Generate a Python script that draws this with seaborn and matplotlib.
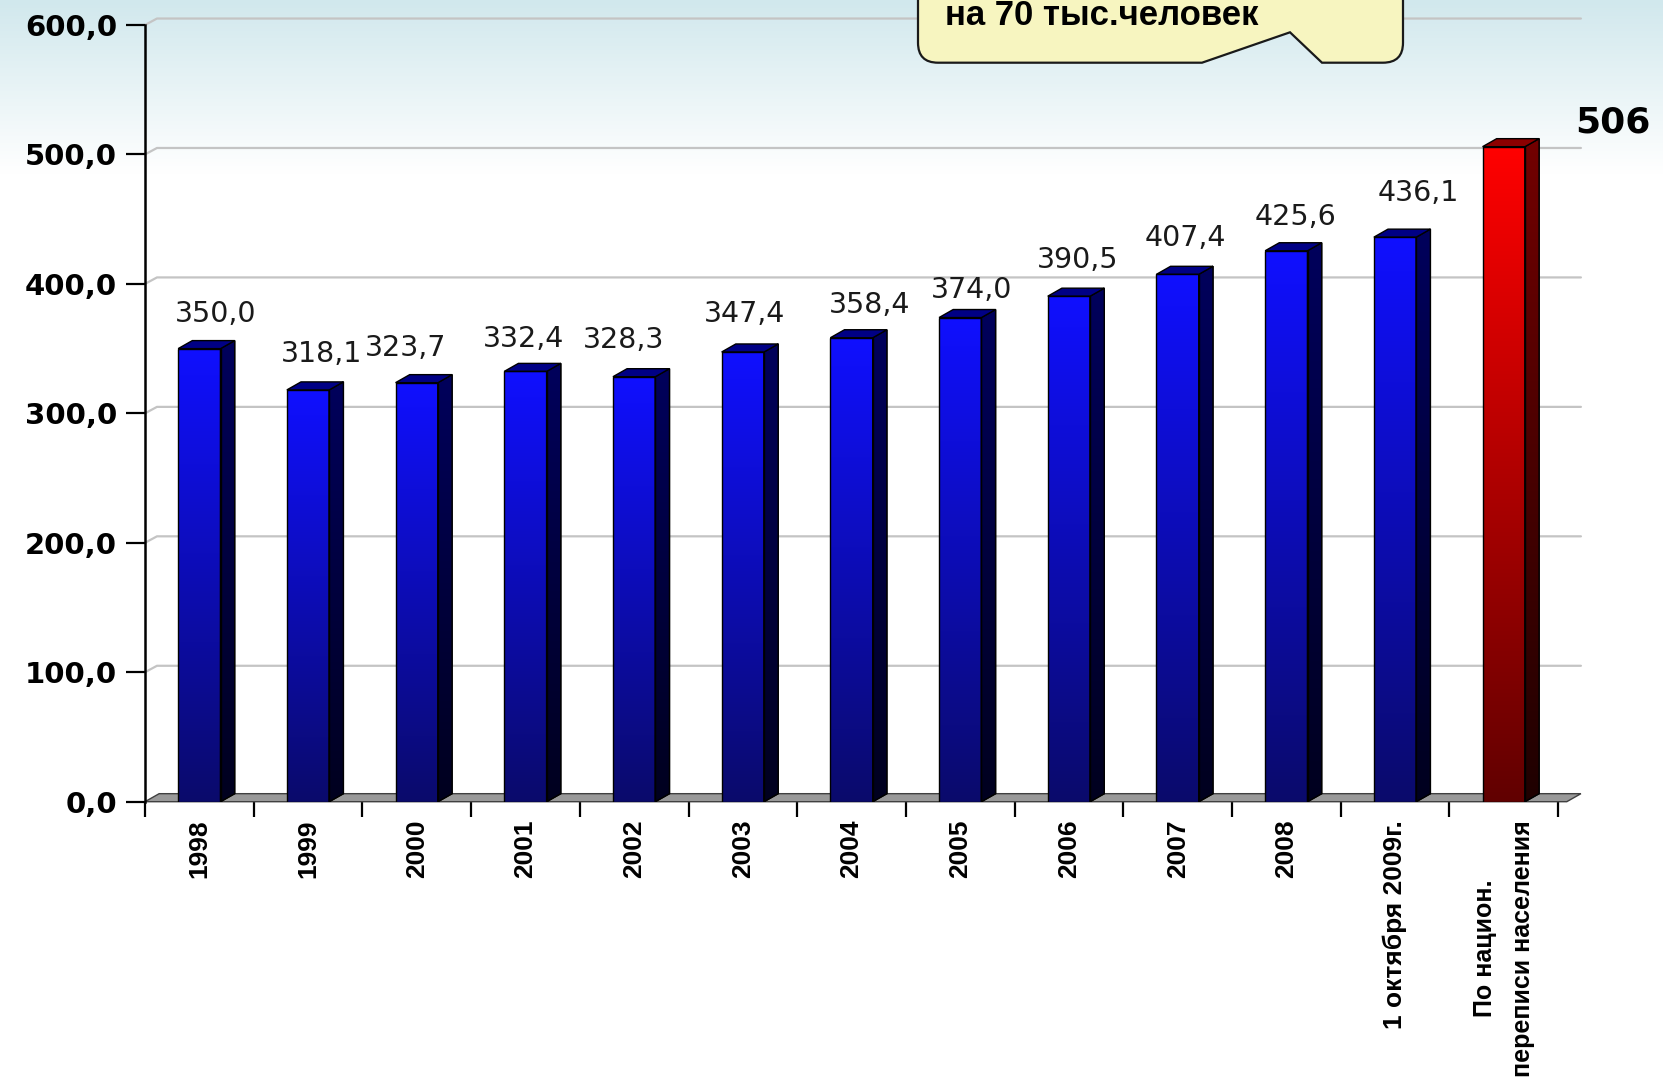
import numpy as np
import matplotlib
matplotlib.use("Agg")
import matplotlib.pyplot as plt
import seaborn as sns
from matplotlib.patches import Polygon, PathPatch
from matplotlib.path import Path

# данные
categories = ["1998", "1999", "2000", "2001", "2002", "2003", "2004", "2005",
              "2006", "2007", "2008", "1 октября 2009г.",
              "По национ.\nпереписи населения"]
values = [350.0, 318.1, 323.7, 332.4, 328.3, 347.4, 358.4, 374.0,
          390.5, 407.4, 425.6, 436.1, 506]
yticks = [0, 100, 200, 300, 400, 500, 600]
callout_text = "на 70 тыс.человек"

# сдвиги подписей значений (как они стоят на слайде)
label_dx = [0.15, 0.12, -0.10, -0.02, -0.10, 0.02, 0.17, 0.10, 0.08, 0.07, 0.08, 0.21, 1.0]
label_dy = [27, 28, 27, 25, 28, 29, 25, 21, 28, 28, 26, 34, 19]

W, H = 1663, 1080
sns.set_style("white")
plt.rcParams['font.family'] = ['DejaVu Sans']
plt.rcParams['text.color'] = 'black'
plt.rcParams['xtick.color'] = 'black'
plt.rcParams['ytick.color'] = 'black'

fig = plt.figure(figsize=(W / 100, H / 100), dpi=100)

# фон с градиентом
bg = fig.add_axes([0, 0, 1, 1], zorder=-10)
t = np.clip(np.linspace(0, 1, 400) / 0.16, 0, 1)[:, None]
top_c = np.array([0.82, 0.91, 0.93])
grad = top_c * (1 - t[..., None]) + np.ones(3) * t[..., None]
bg.imshow(grad, aspect='auto', extent=[0, 1, 0, 1])
bg.axis('off')

ax = fig.add_axes([145 / W, 278.3 / H, 13 * 108.7 / W, 776.7 / H])
ax.set_facecolor('none')

n = len(values)
pal = ['#0000ee'] * (n - 1) + ['#ee0000']
sns.barplot(x=categories, y=values, hue=categories, palette=pal, legend=False,
            width=0.39, edgecolor='black', linewidth=1, ax=ax, zorder=3)

dx, dy = 0.13, 6.2       # глубина 3D
gdx, gdy = 0.11, 5.0     # задняя стенка для сетки

blue = dict(front=((0.04, 0.04, 0.42), (0.06, 0.06, 1.0)),
            side=((0.0, 0.0, 0.12), (0.0, 0.0, 0.36)), top=(0.0, 0.0, 0.52))
red = dict(front=((0.38, 0.0, 0.0), (1.0, 0.0, 0.0)),
           side=((0.12, 0.0, 0.0), (0.45, 0.0, 0.0)), top=(0.55, 0.0, 0.0))


def vgrad(c0, c1):
    s = np.linspace(0, 1, 256)[:, None, None]
    return np.array(c0) * (1 - s) + np.array(c1) * s


bars = list(ax.patches)
for i, p in enumerate(bars):
    sty = red if i == n - 1 else blue
    x0, w, h = p.get_x(), p.get_width(), p.get_height()
    im = ax.imshow(vgrad(*sty['front']), extent=[x0, x0 + w, 0, h], origin='lower',
                   aspect='auto', zorder=3.1)
    im.set_clip_path(p)
    side = Polygon([(x0 + w, 0), (x0 + w + dx, dy), (x0 + w + dx, h + dy), (x0 + w, h)],
                   closed=True, facecolor=sty['side'][1], edgecolor='black', lw=1, zorder=3.2)
    ax.add_patch(side)
    ims = ax.imshow(vgrad(*sty['side']), extent=[x0 + w, x0 + w + dx, 0, h + dy],
                    origin='lower', aspect='auto', zorder=3.2)
    ims.set_clip_path(side)
    ax.add_patch(Polygon([(x0 + w + dx, dy), (x0 + w + dx, h + dy), (x0 + w, h),
                          (x0 + w, 0)], closed=True, fill=False, edgecolor='black',
                         lw=1, zorder=3.3))
    ax.add_patch(Polygon([(x0, h), (x0 + dx, h + dy), (x0 + w + dx, h + dy), (x0 + w, h)],
                         closed=True, facecolor=sty['top'], edgecolor='black', lw=1, zorder=3.3))
    p.set_zorder(3.4)
    p.set_facecolor('none')

    if i == n - 1:
        ax.text(i + label_dx[i], values[i] + label_dy[i], f"{values[i]:.0f}",
                ha='center', va='center', fontsize=26, fontweight='bold',
                color='black', clip_on=False)
    else:
        ax.text(i + label_dx[i], values[i] + label_dy[i],
                f"{values[i]:.1f}".replace('.', ','), ha='center', va='center',
                fontsize=20.5, color='#1a1a1a', clip_on=False)

# пол
ax.add_patch(Polygon([(-0.5, 0), (-0.5 + dx, dy), (n - 0.5 + dx + 0.08, dy), (n - 0.5 + 0.08, 0)],
                     closed=True, facecolor='#999999', edgecolor='#404040', lw=1,
                     zorder=1, clip_on=False))

# сетка на задней стенке
for v in yticks[1:]:
    ax.plot([-0.5, -0.5 + gdx, n - 0.5 + gdx + 0.1], [v, v + gdy, v + gdy],
            color='#c4c4c4', lw=1.6, zorder=0.5, clip_on=False)

ax.set_xlim(-0.5, n - 0.5)
ax.set_ylim(0, 600)
ax.set_yticks(yticks)
ax.set_yticklabels([f"{v:.1f}".replace('.', ',') for v in yticks],
                   fontsize=21, fontweight='bold')
ax.tick_params(axis='y', direction='out', length=14, width=1.6, pad=6, left=True)

ax.set_xticks(range(n))
ax.set_xticks(np.arange(-0.5, n, 1.0), minor=True)
ax.set_xticklabels(categories, rotation=90, fontsize=19, fontweight='bold',
                   family=['Liberation Sans', 'DejaVu Sans'], linespacing=1.75)
xlabels = ax.get_xticklabels()
for lbl in xlabels:
    lbl.set_multialignment('center')
xlabels[-1].set_fontsize(18)
ax.tick_params(axis='x', which='major', length=0, pad=13)
ax.tick_params(axis='x', which='minor', direction='out', length=11, width=1.6, bottom=True)
ax.set_xlabel("")
ax.set_ylabel("")

sns.despine(ax=ax, top=True, right=True, bottom=True)
ax.spines['left'].set_linewidth(1.8)
ax.spines['left'].set_color('black')

# выноска
def fp(x, y):
    return (x / W, 1 - y / H)

x0b, x1b, yb, r = 918, 1403, 62.7, 20
verts = [fp(x0b, -30), fp(x0b, yb - r), fp(x0b, yb), fp(x0b + r, yb),
         fp(1202, yb), fp(1290, 32.3), fp(1322, yb), fp(x1b - r, yb),
         fp(x1b, yb), fp(x1b, yb - r), fp(x1b, -30), fp(x0b, -30)]
codes = [Path.MOVETO, Path.LINETO, Path.CURVE3, Path.CURVE3,
         Path.LINETO, Path.LINETO, Path.LINETO, Path.LINETO,
         Path.CURVE3, Path.CURVE3, Path.LINETO, Path.CLOSEPOLY]
box = PathPatch(Path(verts, codes), facecolor='#f7f5c0', edgecolor='#1a1a1a', lw=1.6,
                transform=fig.transFigure, zorder=5)
fig.patches.append(box)
fig.text(945 / W, 1 - 25 / H, callout_text, fontsize=25, fontweight='bold',
         family=['Liberation Sans', 'DejaVu Sans'], ha='left', va='baseline', zorder=6)

fig.savefig("out.png", dpi=100)
